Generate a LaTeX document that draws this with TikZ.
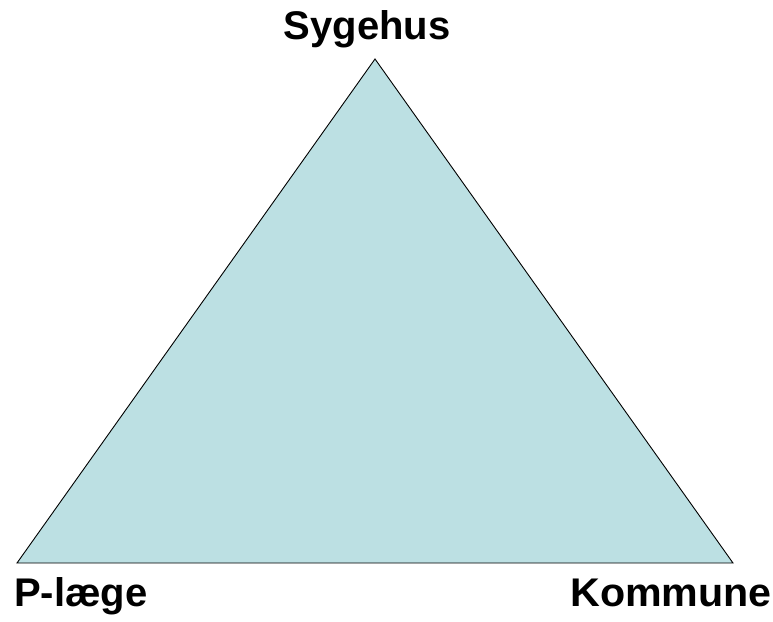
\documentclass[tikz,border=0pt]{standalone}
\usepackage{fontspec}
\setmainfont{Liberation Sans}
\definecolor{tri}{RGB}{188,224,227}
\begin{document}
\begin{tikzpicture}[x=1pt,y=-1pt,
  lbl/.style={font=\bfseries\fontsize{40}{44}\selectfont,inner sep=0pt}]
\useasboundingbox (0,0) rectangle (773,621);
\coordinate (top) at (375,59);
\coordinate (bl) at (17,563);
\coordinate (br) at (733,563);
\filldraw[fill=tri,draw=black,line width=0.9pt,line join=miter] (top) -- (bl) -- (br) -- cycle;
\node[lbl,anchor=base] (syg) at (367,39) {Sygehus};
\node[lbl,anchor=base west] (pl) at (14,606) {P-læge};
\node[lbl,anchor=base east,xscale=1.03] (kom) at (772,606) {Kommune};
\end{tikzpicture}
\end{document}
